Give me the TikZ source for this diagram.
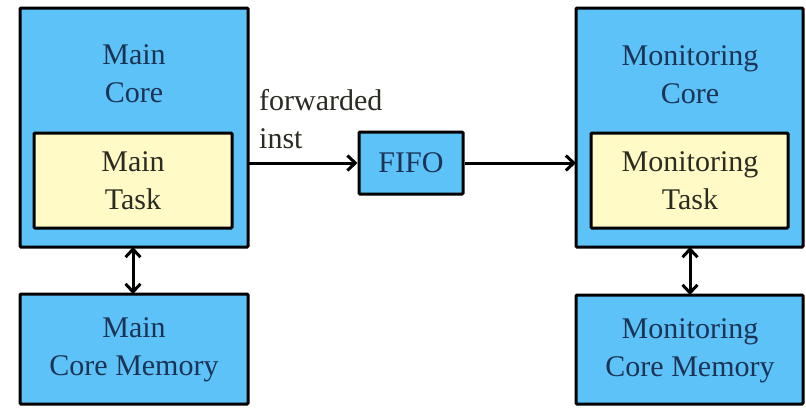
\documentclass[tikz,border=0pt]{standalone}
\usepackage{fontspec}
\setmainfont{LiberationSerif}[Extension=.ttf,UprightFont=*-Regular,BoldFont=*-Bold]
\usetikzlibrary{arrows.meta}
\definecolor{coreblue}{HTML}{5CC2F7}
\definecolor{taskyellow}{HTML}{FFFAC6}
\definecolor{navytext}{HTML}{1C3355}
\definecolor{darktext}{HTML}{2B2B22}
\begin{document}
\begin{tikzpicture}[x=1pt,y=-1pt,
  box/.style={draw=black,line width=3pt,fill=coreblue,rounded corners=1pt},
  taskbox/.style={draw=black,line width=3pt,fill=taskyellow,rounded corners=1pt},
  lbl/.style={font=\fontsize{30}{38}\selectfont,align=center,inner sep=0pt},
  tip/.style={Straight Barb[length=8pt,width=15pt,line width=3pt]},
  link/.style={line width=3pt,-{Straight Barb[length=8pt,width=15pt,line width=3pt]}},
  duplex/.style={line width=3pt,{Straight Barb[length=8pt,width=15pt,line width=3pt]}-{Straight Barb[length=8pt,width=15pt,line width=3pt]}}]
\useasboundingbox (0,0) rectangle (806,410);
\fill[white] (0,0) rectangle (806,410);

% main core side
\draw[box] (20,8) rectangle (248,247);
\coordinate (mcS) at (133,247);
\coordinate (mcE) at (248,163);
\node[lbl,text=navytext] (mcL) at (134,74) {Main\\Core};
\draw[taskbox] (34,133) rectangle (232,228);
\node[lbl,text=darktext] (mtL) at (133,181) {Main\\Task};
\draw[box] (20,294) rectangle (248,404);
\coordinate (mmN) at (133,294);
\node[lbl,text=navytext] (mmL) at (134,350) {Main\\Core Memory};

% FIFO buffer
\node[box,minimum width=104pt,minimum height=62pt,inner sep=0pt,
      font=\fontsize{30}{38}\selectfont,text=navytext] (fifo) at (411,163) {FIFO};
\node[lbl,text=darktext,align=left,anchor=west] (fwd) at (259,119) {forwarded\\inst};

% monitoring core side
\draw[box] (576,8) rectangle (803,247);
\coordinate (ocS) at (690,247);
\coordinate (ocW) at (576,163);
\node[lbl,text=navytext] (ocL) at (690,75) {Monitoring\\Core};
\draw[taskbox] (591,133) rectangle (788,228);
\node[lbl,text=darktext] (otL) at (690,181) {Monitoring\\Task};
\draw[box] (576,295) rectangle (803,404);
\coordinate (omN) at (690,295);
\node[lbl,text=navytext] (omL) at (690,351) {Monitoring\\Core Memory};

% connectors
\draw[link] (mcE) -- (fifo.west);
\draw[link] (fifo.east) -- (ocW);
\draw[duplex] (mcS) -- (mmN);
\draw[duplex] (ocS) -- (omN);
\end{tikzpicture}
\end{document}
